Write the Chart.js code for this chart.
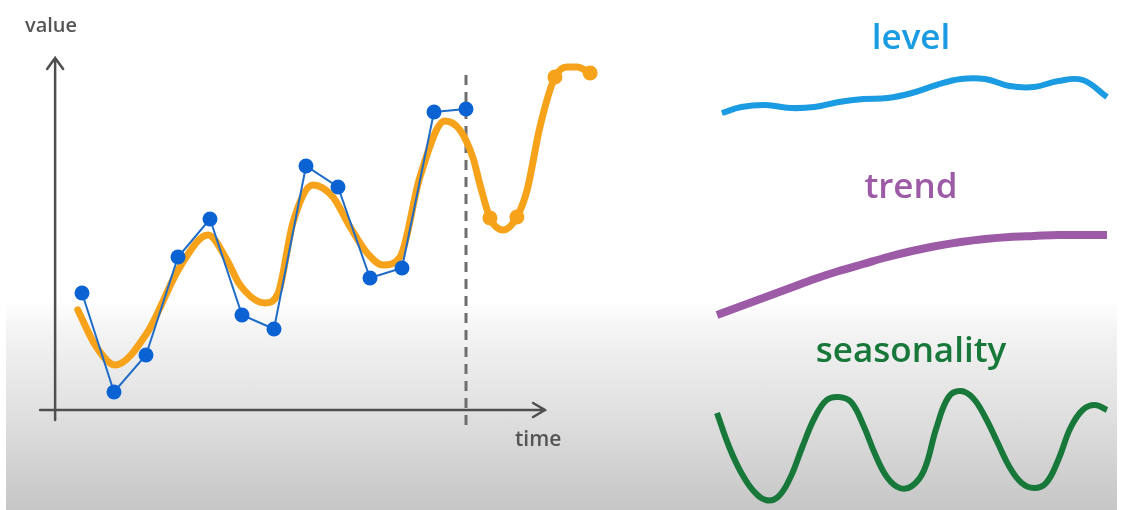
<!DOCTYPE html>
<html>
<head>
<meta charset="utf-8">
<script src="https://cdn.jsdelivr.net/npm/chart.js@4/dist/chart.umd.min.js"></script>
<style>
  html, body { margin: 0; padding: 0; background: #fff; }
  #page { position: relative; width: 1125px; height: 510px; overflow: hidden; font-family: "Open Sans", "Noto Sans", sans-serif; }
  #shade { position: absolute; left: 6px; right: 8px; top: 0; bottom: 0;
    background: linear-gradient(to bottom, #ffffff 0px, #ffffff 300px, #f4f4f4 330px, #dedede 420px, #c6c6c6 510px); }
  canvas { position: absolute; }
  .lbl { position: absolute; white-space: nowrap; line-height: normal; font-weight: 600; }
  .head { position: absolute; width: 400px; left: 711px; text-align: center; font-size: 35px; font-weight: 600; line-height: normal; }
</style>
</head>
<body>
<div id="page">
  <div id="shade"></div>
  <canvas id="main" width="620" height="510" style="left:0;top:0"></canvas>
  <canvas id="level" width="425" height="100" style="left:700px;top:40px"></canvas>
  <canvas id="trend" width="425" height="140" style="left:700px;top:200px"></canvas>
  <canvas id="season" width="425" height="140" style="left:700px;top:370px"></canvas>
  <div class="lbl" style="left:25px;top:11px;font-size:20px;color:#555">value</div>
  <div class="lbl" style="left:515px;top:424px;font-size:21px;color:#555">time</div>
  <div class="head" style="top:12px;color:#1b9ce2">level</div>
  <div class="head" style="top:161px;color:#9d5aa7">trend</div>
  <div class="head" style="top:325px;color:#17783a">seasonality</div>
</div>
<script>
// observed series (blue dots)
var obsTime = [0, 1, 2, 3, 4, 5, 6, 7, 8, 9, 10, 11, 12];
var obsValue = [11.7, 1.8, 5.5, 15.3, 19.1, 9.5, 8.1, 24.4, 22.3, 13.2, 14.2, 29.8, 30.1];

// smoothed fit + forecast (orange line)
var fitTime = [-0.13, 0.41, 1.03, 2.03, 3.06, 3.94, 4.53, 4.94, 5.72, 6.13, 6.59, 7.22, 7.84, 8.38, 8.91, 9.41, 9.94, 10.56, 11.34, 11.81, 12.22, 12.44, 12.75, 13.16, 13.59, 13.91, 14.31, 14.78, 15.16, 15.47, 15.88];
var fitValue = [10.0, 6.5, 4.5, 7.7, 14.3, 17.5, 15.0, 12.5, 10.7, 11.7, 18.7, 22.5, 21.3, 18.3, 15.7, 14.5, 15.3, 23.3, 28.9, 28.0, 25.2, 22.5, 19.2, 18.0, 19.3, 22.0, 28.3, 33.3, 34.3, 34.3, 33.7];

// forecast points (orange dots)
var fcTime = [12.75, 13.59, 14.78, 15.88];
var fcValue = [19.2, 19.3, 33.3, 33.7];

var nowTime = 12; // dashed "now" line

// components
var levelTime = [0.2, 1, 2, 3, 4, 5, 6, 7, 8, 9, 10, 11, 12, 13, 14, 15, 16];
var levelValue = [1.7, 2.3, 2.5, 2.2, 2.3, 2.8, 3.1, 3.2, 3.7, 4.5, 5.1, 5.1, 4.4, 4.3, 4.9, 5.0, 3.3];

var trendTime = [0, 1, 2, 3, 4, 5, 6, 7, 8, 9, 10, 11, 12, 13, 14, 15, 16];
var trendValue = [1.5, 2.4, 3.3, 4.2, 5.1, 5.9, 6.6, 7.3, 7.9, 8.4, 8.8, 9.1, 9.3, 9.4, 9.5, 9.5, 9.5];

var seasonTime = [0, 0.5, 1, 1.5, 2, 2.5, 3, 3.5, 4, 4.5, 5, 5.5, 6, 6.5, 7, 7.5, 8, 8.5, 9, 9.5, 10, 10.5, 11, 11.5, 12, 12.5, 13, 13.5, 14, 14.5, 15, 15.5, 16];
var seasonValue = [3.2, -0.2, -2.8, -4.6, -5.5, -5.2, -3.3, -0.2, 2.7, 4.5, 4.8, 4.3, 2.0, -1.0, -3.3, -4.3, -4.1, -2.5, 1.7, 4.8, 5.4, 4.7, 2.8, 0.3, -2.2, -3.8, -4.3, -3.8, -1.5, 1.7, 3.5, 4.0, 3.5];

function pts(xs, ys) {
  var out = [];
  for (var i = 0; i < xs.length; i++) out.push({ x: xs[i], y: ys[i] });
  return out;
}

function baseOptions(xmin, xmax, ymin, ymax) {
  return {
    responsive: false,
    animation: false,
    events: [],
    layout: { padding: 0, autoPadding: false },
    plugins: { legend: { display: false }, tooltip: { enabled: false } },
    scales: {
      x: { type: 'linear', min: xmin, max: xmax, display: false },
      y: { type: 'linear', min: ymin, max: ymax, display: false }
    }
  };
}

// axes with arrows and dashed marker, placed through the scales
var axesPlugin = {
  id: 'axes',
  beforeDatasetsDraw: function (chart) {
    var c = chart.ctx, sx = chart.scales.x, sy = chart.scales.y;
    var ox = sx.getPixelForValue(-0.84), oy = sy.getPixelForValue(0);
    var top = sy.getPixelForValue(35.2), right = sx.getPixelForValue(14.47);
    c.save();
    c.strokeStyle = '#4f4f4f';
    c.lineWidth = 2.5;
    c.lineCap = 'round';
    c.beginPath();
    c.moveTo(ox, sy.getPixelForValue(-1)); c.lineTo(ox, top);
    c.moveTo(ox - 8, top + 11); c.lineTo(ox, top); c.lineTo(ox + 8, top + 11);
    c.moveTo(sx.getPixelForValue(-1.31), oy); c.lineTo(right, oy);
    c.moveTo(right - 12, oy - 7); c.lineTo(right, oy); c.lineTo(right - 12, oy + 7);
    c.stroke();
    var nx = sx.getPixelForValue(nowTime);
    c.strokeStyle = '#6e6e6e';
    c.lineWidth = 3;
    c.lineCap = 'butt';
    c.setLineDash([10, 7]);
    c.beginPath();
    c.moveTo(nx, sy.getPixelForValue(33.5));
    c.lineTo(nx, sy.getPixelForValue(-2.2));
    c.stroke();
    c.restore();
  }
};

var mainOpts = baseOptions(-82 / 32, (620 - 82) / 32, -10, 41);
new Chart(document.getElementById('main'), {
  type: 'line',
  data: {
    datasets: [
      {
        data: pts(fitTime, fitValue),
        borderColor: '#f7a21b',
        borderWidth: 7,
        pointRadius: 0,
        cubicInterpolationMode: 'monotone',
        borderCapStyle: 'round',
        borderJoinStyle: 'round',
        order: 3
      },
      {
        data: pts(fcTime, fcValue),
        showLine: false,
        pointRadius: 7.5,
        pointBackgroundColor: '#f7a21b',
        pointBorderWidth: 0,
        order: 2
      },
      {
        data: pts(obsTime, obsValue),
        borderColor: '#1f6cc6',
        borderWidth: 2,
        tension: 0,
        pointRadius: 7.5,
        pointBackgroundColor: '#0b62d2',
        pointBorderWidth: 0,
        order: 1
      }
    ]
  },
  options: mainOpts,
  plugins: [axesPlugin]
});

var rx0 = -17 / 24.375, rx1 = (425 - 17) / 24.375;

function component(id, xs, ys, color, width, ymin, ymax, smooth) {
  var ds = {
    data: pts(xs, ys),
    borderColor: color,
    borderWidth: width,
    pointRadius: 0,
    borderCapStyle: 'butt'
  };
  if (smooth == 'monotone') ds.cubicInterpolationMode = 'monotone';
  else ds.tension = 0.4;
  new Chart(document.getElementById(id), {
    type: 'line',
    data: { datasets: [ds] },
    options: baseOptions(rx0, rx1, ymin, ymax)
  });
}

component('level', levelTime, levelValue, '#1b9ce2', 6, -1, 9);
component('trend', trendTime, trendValue, '#9d5aa7', 8, -1, 13, 'monotone');
component('season', seasonTime, seasonValue, '#17783a', 6, -6.5, 7.5);
</script>
</body>
</html>
